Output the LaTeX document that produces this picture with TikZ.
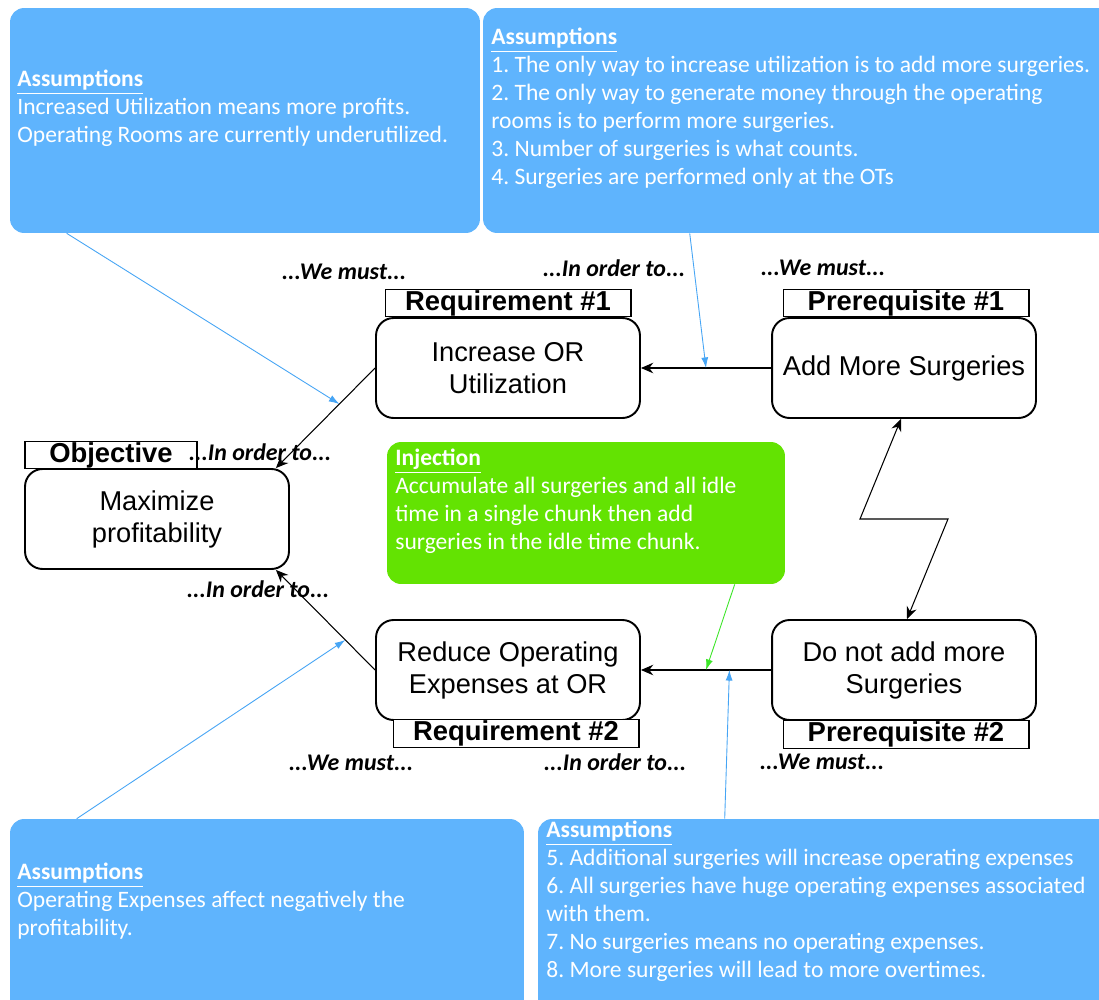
\documentclass[tikz,border=0pt]{standalone}
\usepackage{fontspec}
\setmainfont{Carlito}
\newfontfamily\arialfont{Liberation Sans}
\usepackage{tikz}
\usetikzlibrary{calc, arrows.meta, positioning}
\frenchspacing
\definecolor{asmblue}{RGB}{95,180,253}
\definecolor{asmline}{RGB}{70,165,245}
\definecolor{injgreen}{RGB}{99,227,2}
\definecolor{injline}{RGB}{60,230,40}
\tikzset{>={Stealth[length=7pt,width=6pt]}}
\tikzset{
  asmbox/.style={fill=asmblue, rounded corners=8pt, inner sep=0pt},
  asmtext/.style={anchor=north west, inner sep=0pt, align=left, text=white, font=\fontsize{13.4}{15.9}\selectfont},
  goalbox/.style={draw, line width=1.1pt, fill=white, rounded corners=10pt, minimum width=5.28cm, minimum height=2cm, align=center, font=\arialfont\fontsize{15.5}{18.2}\selectfont},
  tagbox/.style={draw, line width=0.6pt, fill=white, minimum width=4.92cm, minimum height=0.55cm, inner sep=0pt, font=\arialfont\bfseries\fontsize{15.6}{18}\selectfont},
  linkword/.style={inner sep=0pt, font=\bfseries\itshape\fontsize{13.6}{15}\selectfont},
  conn/.style={->, line width=0.6pt},
  asmconn/.style={-{Latex[length=6pt,width=4pt]}, asmline, line width=0.5pt},
}

\begin{document}
\begin{tikzpicture}[x=0.02cm, y=-0.02cm]
\clip (0,0) rectangle (1099,1000);
\fill[white] (0,0) rectangle (1099,1000);

% assumption boxes
\node[asmbox, minimum width=9.4cm, minimum height=4.5cm] (asmA) at (245,120.5) {};
\node[asmbox, minimum width=12.74cm, minimum height=4.5cm] (asmB) at (801.5,120.5) {};
\node[asmbox, minimum width=10.28cm, minimum height=4.42cm] (asmC) at (267,929.5) {};
\node[asmbox, minimum width=11.64cm, minimum height=4.42cm] (asmD) at (829,929.5) {};
\node[asmbox, fill=injgreen, minimum width=7.96cm, minimum height=2.84cm] (inj) at (586,513) {};

\node[asmtext] (asmAtext) at (17,70) {\textbf{\underline{Assumptions}}\\
  Increased Utilization means more profits.\\
  Operating Rooms are currently underutilized.};
\node[asmtext] (asmBtext) at (491,28) {\textbf{\underline{Assumptions}}\\
  1. The only way to increase utilization is to add more surgeries.\\
  2. The only way to generate money through the operating\\
  rooms is to perform more surgeries.\\
  3. Number of surgeries is what counts.\\
  4. Surgeries are performed only at the OTs};
\node[asmtext] (asmCtext) at (17,863) {\textbf{\underline{Assumptions}}\\
  Operating Expenses affect negatively the\\
  profitability.};
\node[asmtext] (asmDtext) at (546,821) {\textbf{\underline{Assumptions}}\\
  5. Additional surgeries will increase operating expenses\\
  6. All surgeries have huge operating expenses associated\\
  with them.\\
  7. No surgeries means no operating expenses.\\
  8. More surgeries will lead to more overtimes.};
\node[asmtext] (injtext) at (395,449) {\textbf{\underline{Injection}}\\
  Accumulate all surgeries and all idle\\
  time in a single chunk then add\\
  surgeries in the idle time chunk.};

% cloud entities
\node[goalbox] (obj) at (157,519) {Maximize\\profitability};
\node[goalbox] (req1) at (508,368) {Increase OR\\Utilization};
\node[goalbox] (pre1) at (904,368) {Add More Surgeries};
\node[goalbox] (req2) at (508,670) {Reduce Operating\\Expenses at OR};
\node[goalbox] (pre2) at (904,670) {Do not add more\\Surgeries};

\node[tagbox, minimum width=3.44cm] (objtag) at (111,455) {Objective};
\node[tagbox] (req1tag) at (508,303) {Requirement \#1};
\node[tagbox] (pre1tag) at (906,303) {Prerequisite \#1};
\node[tagbox] (req2tag) at (516,733.5) {Requirement \#2};
\node[tagbox] (pre2tag) at (906,734.5) {Prerequisite \#2};

\node[linkword] (mustA) at (344,272) {...We must...};
\node[linkword] (orderA) at (614,268) {...In order to...};
\node[linkword] (mustB) at (823,268) {...We must...};
\node[linkword] (orderB) at (260,452) {...In order to...};
\node[linkword] (orderC) at (258,589) {...In order to...};
\node[linkword] (mustC) at (351,763) {...We must...};
\node[linkword] (orderD) at (615,762) {...In order to...};
\node[linkword] (mustD) at (822,762) {...We must...};

% arrows
\coordinate (objTop) at ($(obj.north east)+(-14,0)$);
\coordinate (objBot) at ($(obj.south east)+(-14,0)$);
\draw[conn] (req1.west) -- (objTop);
\draw[conn] (req2.west) -- (objBot);
\draw[conn] (pre1.west) -- (req1.east);
\draw[conn] (pre2.west) -- (req2.east);
\coordinate (zigA) at (860,519);
\coordinate (zigB) at (948,519);
\draw[conn, <->] ($(pre1.south)+(-3,0)$) -- (zigA) -- (zigB) -- ($(pre2.north)+(3,0)$);

\draw[asmconn] ($(asmA.south west)+(57,0)$) -- ($(req1.west)!0.36!(objTop)$);
\draw[asmconn] ($(asmB.south west)+(207,0)$) -- ($(pre1.west)!0.5!(req1.east)$);
\draw[asmconn] ($(asmC.north west)+(67,0)$) -- ($(req2.west)!0.3!(objBot)$);
\draw[asmconn] ($(asmD.north west)+(187,0)$) -- ($(pre2.west)!0.32!(req2.east)$);
\draw[asmconn, injline] ($(inj.south west)+(348,0)$) -- ($(pre2.west)!0.5!(req2.east)$);
\end{tikzpicture}
\end{document}
